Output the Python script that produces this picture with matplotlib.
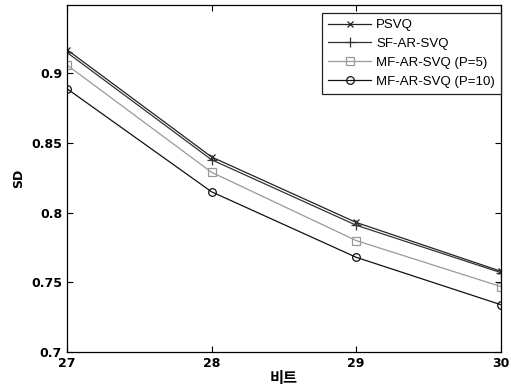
import matplotlib
matplotlib.use('Agg')
import matplotlib.pyplot as plt

bits = [27, 28, 29, 30]
psvq = [0.917, 0.840, 0.793, 0.758]
sf_ar_svq = [0.915, 0.838, 0.791, 0.757]
mf_p5 = [0.906, 0.829, 0.780, 0.747]
mf_p10 = [0.889, 0.815, 0.768, 0.734]

labels = ['PSVQ', 'SF-AR-SVQ', 'MF-AR-SVQ (P=5)', 'MF-AR-SVQ (P=10)']
yticks = [0.7, 0.75, 0.8, 0.85, 0.9]

fig = plt.figure(figsize=(5.11, 3.89), dpi=100)
ax = fig.add_axes([0.131, 0.095, 0.849, 0.892])

ax.plot(bits, psvq, color='#222222', lw=0.9, marker='x', ms=4, mew=0.9, label=labels[0])
ax.plot(bits, sf_ar_svq, color='#333333', lw=0.9, marker='+', ms=7, mew=0.9, label=labels[1])
ax.plot(bits, mf_p5, color='#999999', lw=0.9, marker='s', ms=5.5, mfc='none', mew=0.9, label=labels[2])
ax.plot(bits, mf_p10, color='#111111', lw=0.9, marker='o', ms=5.5, mfc='none', mew=0.9, label=labels[3])

ax.set_xlim(27, 30)
ax.set_ylim(0.7, 0.949)
ax.set_xticks(bits)
ax.set_yticks(yticks)
ax.set_xticklabels([str(b) for b in bits], fontsize=9, fontweight='bold')
ax.set_yticklabels([f'{v:g}' for v in yticks], fontsize=9, fontweight='bold')
ax.tick_params(direction='in', top=True, right=True, length=4, width=0.8)
for s in ax.spines.values():
    s.set_linewidth(0.9)

ax.set_xlabel('비트', family=['Noto Sans CJK KR', 'DejaVu Sans'], fontsize=11, fontweight='bold', labelpad=0)
ax.set_ylabel('SD', fontsize=9, fontweight='bold', labelpad=4)

leg = ax.legend(loc='upper right', bbox_to_anchor=(1.0, 0.977), borderaxespad=0, fancybox=False,
                edgecolor='#222222', prop={'family': 'Liberation Sans', 'size': 9.5}, handlelength=3.3,
                borderpad=0.45, labelspacing=0.5, handletextpad=0.35, framealpha=1)
leg.get_frame().set_linewidth(0.9)

fig.savefig('out.png', dpi=100)
